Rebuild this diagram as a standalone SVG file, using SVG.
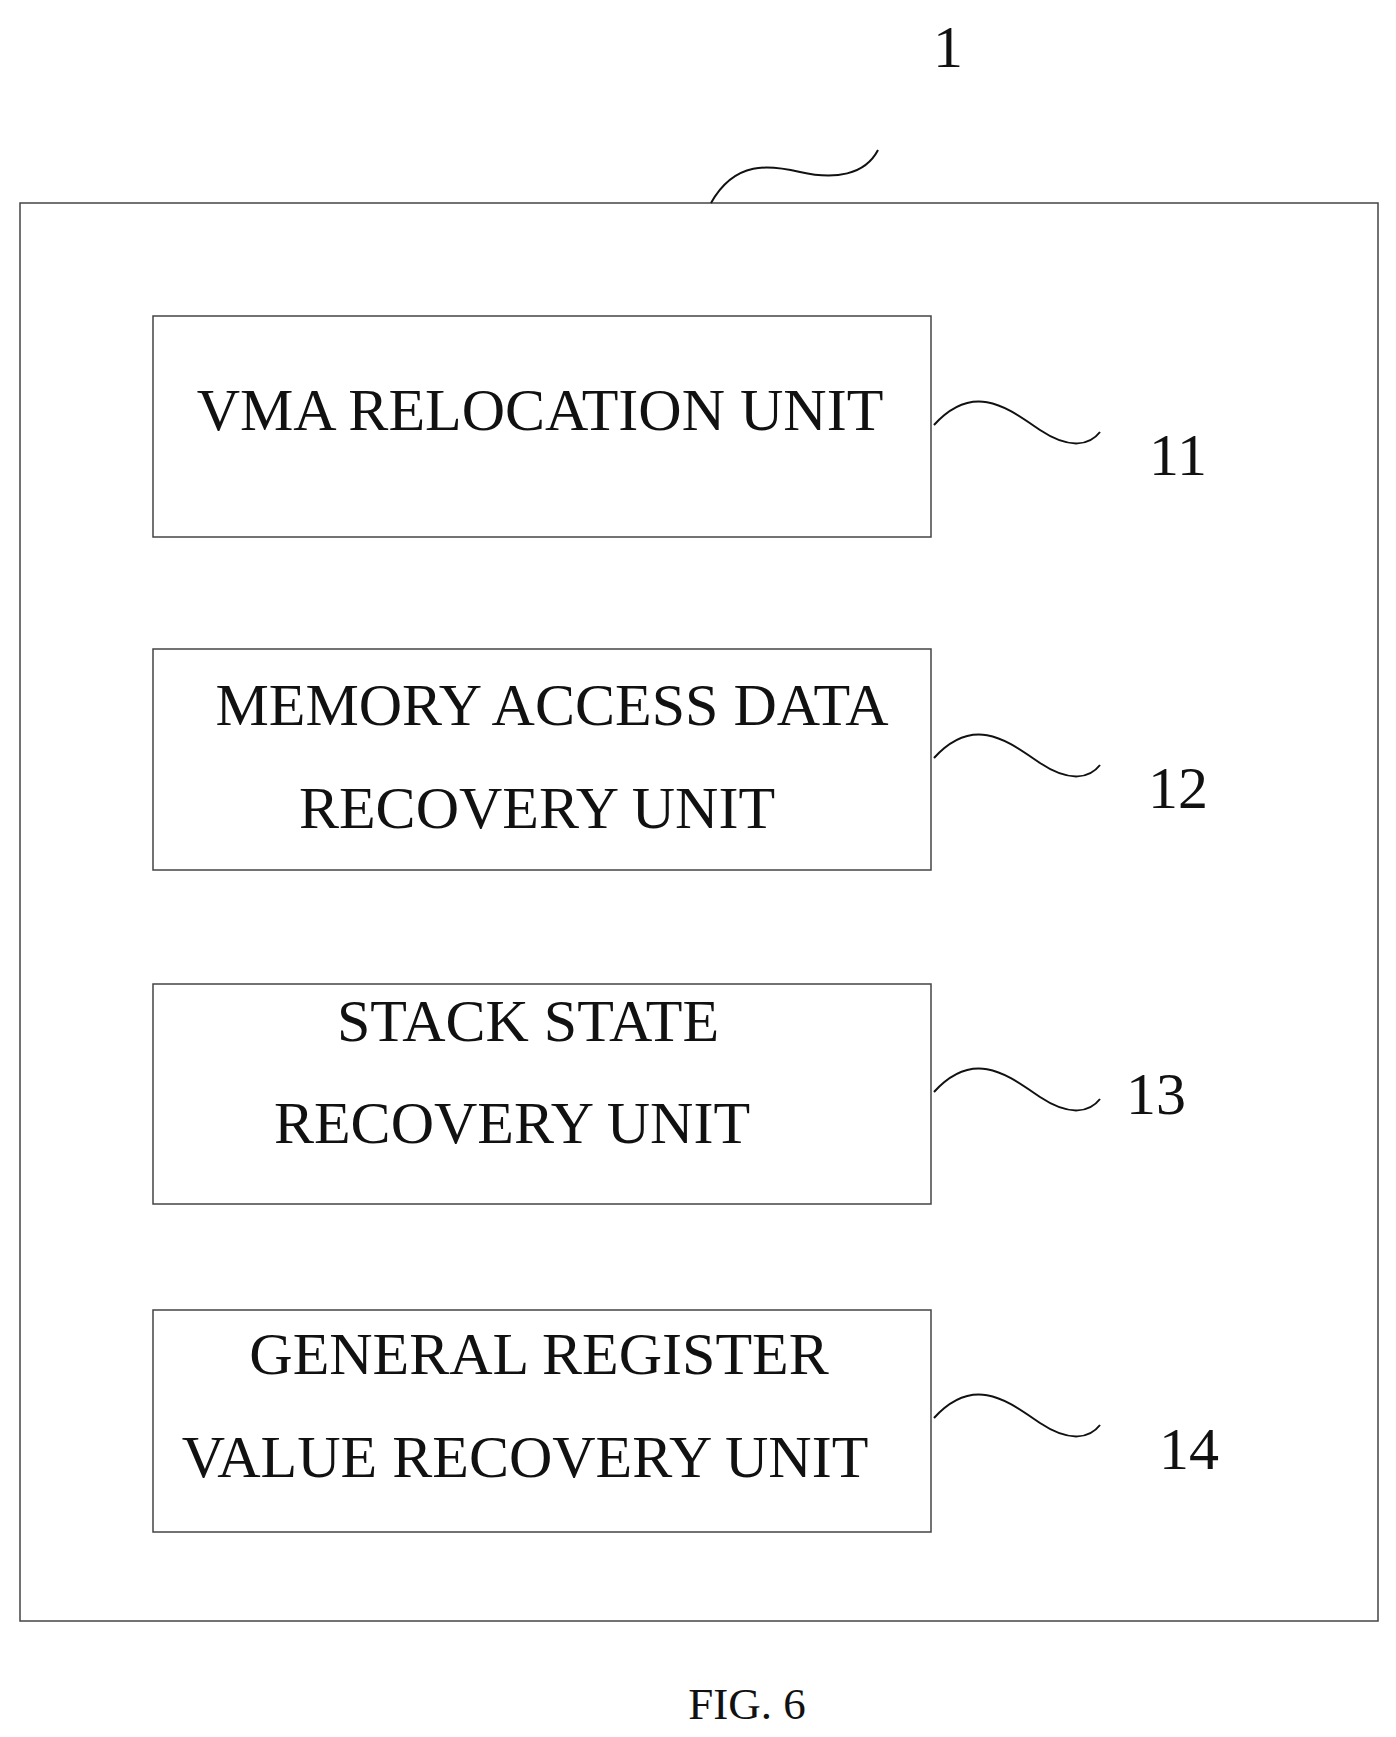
<svg xmlns="http://www.w3.org/2000/svg" width="1396" height="1737" viewBox="0 0 1396 1737">
<style>
.b{fill:none;stroke:#444;stroke-width:1.5}
.t{font-family:"Liberation Serif",serif;font-size:60px;fill:#111;text-anchor:middle}
.n{font-family:"Liberation Serif",serif;font-size:60px;fill:#111;text-anchor:middle}
.w{fill:none;stroke:#111;stroke-width:2}
</style>
<rect width="1396" height="1737" fill="#fff"/>
<g id="system"><rect class="b" x="20" y="203" width="1358" height="1418"/><text class="n" x="948" y="67">1</text></g>
<g id="u11"><rect class="b" x="153" y="316" width="778" height="221"/><text class="t" x="540" y="430">VMA RELOCATION UNIT</text><text class="n" x="1178" y="475">11</text></g>
<g id="u12"><rect class="b" x="153" y="649" width="778" height="221"/><text class="t" x="552" y="725">MEMORY ACCESS DATA</text><text class="t" x="537" y="828">RECOVERY UNIT</text><text class="n" x="1178" y="808">12</text></g>
<g id="u13"><rect class="b" x="153" y="984" width="778" height="220"/><text class="t" x="528" y="1041">STACK STATE</text><text class="t" x="512" y="1143">RECOVERY UNIT</text><text class="n" x="1156" y="1114">13</text></g>
<g id="u14"><rect class="b" x="153" y="1310" width="778" height="222"/><text class="t" x="539" y="1374">GENERAL REGISTER</text><text class="t" x="525" y="1477">VALUE RECOVERY UNIT</text><text class="n" x="1189" y="1469">14</text></g>
<g id="connectors">
<path class="w" d="M711,203 C735,160 770,165 800,172 C835,180 865,175 878,150"/>
<path class="w" d="M934,425 C975,380 1010,410 1040,430 C1070,450 1090,445 1100,432"/>
<path class="w" d="M934,758 C975,713 1010,743 1040,763 C1070,783 1090,778 1100,765"/>
<path class="w" d="M934,1092 C975,1047 1010,1077 1040,1097 C1070,1117 1090,1112 1100,1099"/>
<path class="w" d="M934,1418 C975,1373 1010,1403 1040,1423 C1070,1443 1090,1438 1100,1425"/>
</g>
<text x="747" y="1719" style="font-family:'Liberation Serif',serif;font-size:45px;fill:#111;text-anchor:middle">FIG. 6</text>
</svg>
